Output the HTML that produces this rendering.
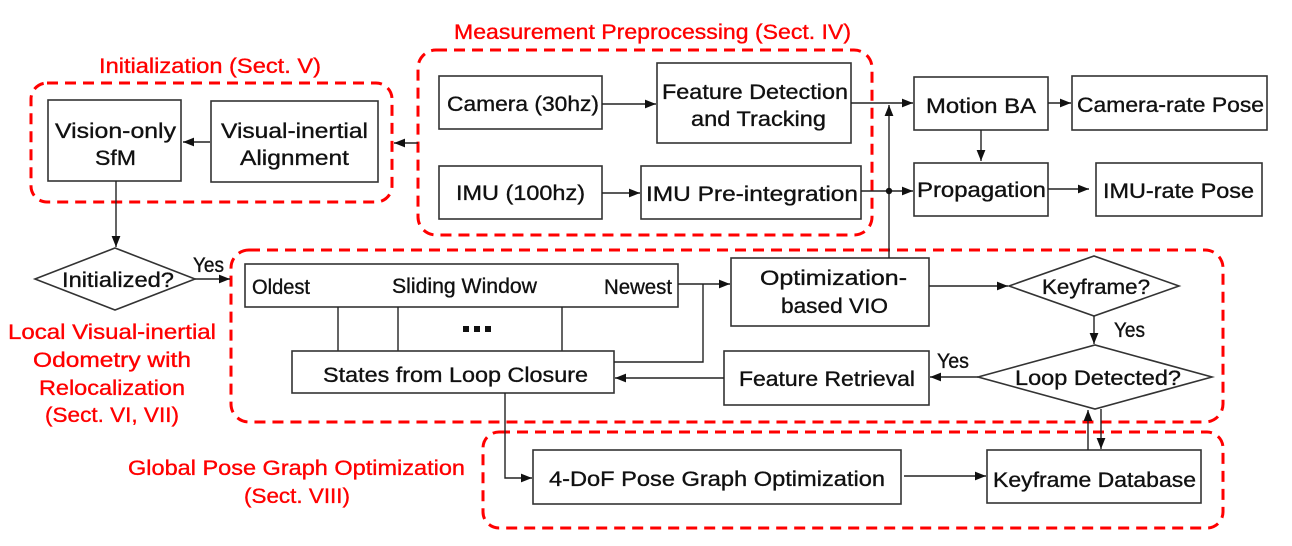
<!DOCTYPE html>
<html><head><meta charset="utf-8"><style>
html,body{margin:0;padding:0;background:#fff;}
svg{display:block;}
text{font-family:"Liberation Sans",sans-serif;font-size:21px;fill:#111;stroke:#111;stroke-width:0.35;}
.r{fill:#f00;stroke:#f00;font-size:21px;}
.b{fill:#fff;stroke:#333;stroke-width:1.6;}
.d{fill:none;stroke:#f00;stroke-width:3;stroke-dasharray:11 7;}
.l{fill:none;stroke:#222;stroke-width:1.4;}
</style></head><body>
<svg width="1292" height="546" viewBox="0 0 1292 546" xmlns="http://www.w3.org/2000/svg">
<defs><marker id="a" viewBox="0 0 10 10" refX="10" refY="5" markerWidth="8" markerHeight="8" orient="auto-start-reverse"><path d="M0,1 L10,5 L0,9 z" fill="#111"/></marker></defs>

<rect class="d" x="31" y="83" width="361" height="119" rx="16"/>
<rect class="d" x="418" y="50" width="454" height="185" rx="18"/>
<rect class="d" x="231" y="250" width="992" height="172" rx="18"/>
<rect class="d" x="483" y="432" width="740" height="96" rx="16"/>

<text class="r" x="99" y="73" textLength="222" lengthAdjust="spacingAndGlyphs">Initialization (Sect. V)</text>
<text class="r" x="454" y="39" textLength="397" lengthAdjust="spacingAndGlyphs">Measurement Preprocessing (Sect. IV)</text>
<text class="r" x="8" y="339" textLength="208" lengthAdjust="spacingAndGlyphs">Local Visual-inertial</text>
<text class="r" x="33" y="367" textLength="158" lengthAdjust="spacingAndGlyphs">Odometry with</text>
<text class="r" x="39" y="395" textLength="146" lengthAdjust="spacingAndGlyphs">Relocalization</text>
<text class="r" x="45" y="422" textLength="134" lengthAdjust="spacingAndGlyphs">(Sect. VI, VII)</text>
<text class="r" x="128" y="475" textLength="337" lengthAdjust="spacingAndGlyphs">Global Pose Graph Optimization</text>
<text class="r" x="244" y="503" textLength="106" lengthAdjust="spacingAndGlyphs">(Sect. VIII)</text>

<rect class="b" x="48" y="100" width="133" height="81"/>
<text x="55" y="138" textLength="121" lengthAdjust="spacingAndGlyphs">Vision-only</text>
<text x="95" y="165" textLength="41" lengthAdjust="spacingAndGlyphs">SfM</text>

<rect class="b" x="211" y="101" width="167" height="81"/>
<text x="221" y="138" textLength="147" lengthAdjust="spacingAndGlyphs">Visual-inertial</text>
<text x="240" y="165" textLength="109" lengthAdjust="spacingAndGlyphs">Alignment</text>

<rect class="b" x="439" y="76" width="163" height="53"/>
<text x="447" y="111" textLength="152" lengthAdjust="spacingAndGlyphs">Camera (30hz)</text>
<rect class="b" x="439" y="166" width="163" height="53"/>
<text x="456" y="200" textLength="129" lengthAdjust="spacingAndGlyphs">IMU (100hz)</text>

<rect class="b" x="657" y="63" width="194" height="80"/>
<text x="662" y="99" textLength="186" lengthAdjust="spacingAndGlyphs">Feature Detection</text>
<text x="691" y="126" textLength="135" lengthAdjust="spacingAndGlyphs">and Tracking</text>
<rect class="b" x="641" y="166" width="220" height="53"/>
<text x="646" y="201" textLength="212" lengthAdjust="spacingAndGlyphs">IMU Pre-integration</text>

<rect class="b" x="914" y="77" width="134" height="53"/>
<text x="926" y="113" textLength="110" lengthAdjust="spacingAndGlyphs">Motion BA</text>
<rect class="b" x="1072" y="76" width="195" height="54"/>
<text x="1077" y="112" textLength="187" lengthAdjust="spacingAndGlyphs">Camera-rate Pose</text>
<rect class="b" x="914" y="163" width="134" height="53"/>
<text x="917" y="197" textLength="129" lengthAdjust="spacingAndGlyphs">Propagation</text>
<rect class="b" x="1096" y="163" width="166" height="53"/>
<text x="1103" y="198" textLength="151" lengthAdjust="spacingAndGlyphs">IMU-rate Pose</text>

<polygon class="b" points="35,279 115,248 195,279 115,310"/>
<text x="62" y="287" textLength="112" lengthAdjust="spacingAndGlyphs">Initialized?</text>
<text x="193" y="272" font-size="18" textLength="31" lengthAdjust="spacingAndGlyphs">Yes</text>

<rect class="b" x="245" y="264" width="433" height="43"/>
<text x="252" y="294" font-size="18" textLength="58" lengthAdjust="spacingAndGlyphs">Oldest</text>
<text x="392" y="293" font-size="18" textLength="145" lengthAdjust="spacingAndGlyphs">Sliding Window</text>
<text x="604" y="294" font-size="18" textLength="68" lengthAdjust="spacingAndGlyphs">Newest</text>
<line class="l" x1="338" y1="307" x2="338" y2="351"/>
<line class="l" x1="398" y1="307" x2="398" y2="351"/>
<line class="l" x1="562" y1="307" x2="562" y2="351"/>
<rect x="463" y="326" width="6" height="6" fill="#111"/><rect x="474" y="326" width="6" height="6" fill="#111"/><rect x="485" y="326" width="6" height="6" fill="#111"/>

<rect class="b" x="292" y="351" width="322" height="42"/>
<text x="323" y="382" textLength="265" lengthAdjust="spacingAndGlyphs">States from Loop Closure</text>

<rect class="b" x="731" y="258" width="198" height="68"/>
<text x="760" y="285" textLength="147" lengthAdjust="spacingAndGlyphs">Optimization-</text>
<text x="781" y="313" textLength="107" lengthAdjust="spacingAndGlyphs">based VIO</text>

<polygon class="b" points="1009,286 1094,256 1179,286 1094,316"/>
<text x="1042" y="294" textLength="108" lengthAdjust="spacingAndGlyphs">Keyframe?</text>
<text x="1114" y="337" font-size="18" textLength="31" lengthAdjust="spacingAndGlyphs">Yes</text>

<polygon class="b" points="978,377 1095,345 1212,377 1095,409"/>
<text x="1015" y="385" textLength="166" lengthAdjust="spacingAndGlyphs">Loop Detected?</text>
<text x="937" y="368" font-size="18" textLength="32" lengthAdjust="spacingAndGlyphs">Yes</text>

<rect class="b" x="724" y="351" width="205" height="54"/>
<text x="739" y="386" textLength="176" lengthAdjust="spacingAndGlyphs">Feature Retrieval</text>

<rect class="b" x="533" y="450" width="368" height="54"/>
<text x="549" y="486" textLength="336" lengthAdjust="spacingAndGlyphs">4-DoF Pose Graph Optimization</text>
<rect class="b" x="987" y="450" width="214" height="53"/>
<text x="993" y="487" textLength="203" lengthAdjust="spacingAndGlyphs">Keyframe Database</text>

<line class="l" x1="210" y1="142" x2="183" y2="142" marker-end="url(#a)"/>
<line class="l" x1="418" y1="143" x2="394" y2="143" marker-end="url(#a)"/>
<line class="l" x1="602" y1="104" x2="656" y2="104" marker-end="url(#a)"/>
<line class="l" x1="602" y1="193" x2="640" y2="193" marker-end="url(#a)"/>
<line class="l" x1="851" y1="103" x2="913" y2="103" marker-end="url(#a)"/>
<line class="l" x1="861" y1="191" x2="913" y2="191" marker-end="url(#a)"/>
<line class="l" x1="889" y1="258" x2="889" y2="105" marker-end="url(#a)"/>
<circle cx="889" cy="191" r="3.2" fill="#111"/>
<line class="l" x1="1048" y1="103" x2="1071" y2="103" marker-end="url(#a)"/>
<line class="l" x1="981" y1="130" x2="981" y2="161" marker-end="url(#a)"/>
<line class="l" x1="1048" y1="189" x2="1089" y2="189" marker-end="url(#a)"/>
<line class="l" x1="116" y1="181" x2="116" y2="247" marker-end="url(#a)"/>
<line class="l" x1="195" y1="279" x2="230" y2="279" marker-end="url(#a)"/>
<line class="l" x1="678" y1="284" x2="730" y2="284" marker-end="url(#a)"/>
<polyline class="l" points="614,362 703,362 703,284"/>
<line class="l" x1="929" y1="286" x2="1008" y2="286" marker-end="url(#a)"/>
<line class="l" x1="1094" y1="316" x2="1094" y2="344" marker-end="url(#a)"/>
<line class="l" x1="978" y1="377" x2="930" y2="377" marker-end="url(#a)"/>
<line class="l" x1="724" y1="378" x2="615" y2="378" marker-end="url(#a)"/>
<polyline class="l" points="505,393 505,478 532,478" marker-end="url(#a)"/>
<line class="l" x1="904" y1="476" x2="986" y2="476" marker-end="url(#a)"/>
<line class="l" x1="1088" y1="450" x2="1088" y2="410" marker-end="url(#a)"/>
<line class="l" x1="1101" y1="409" x2="1101" y2="449" marker-end="url(#a)"/>
</svg>
</body></html>
